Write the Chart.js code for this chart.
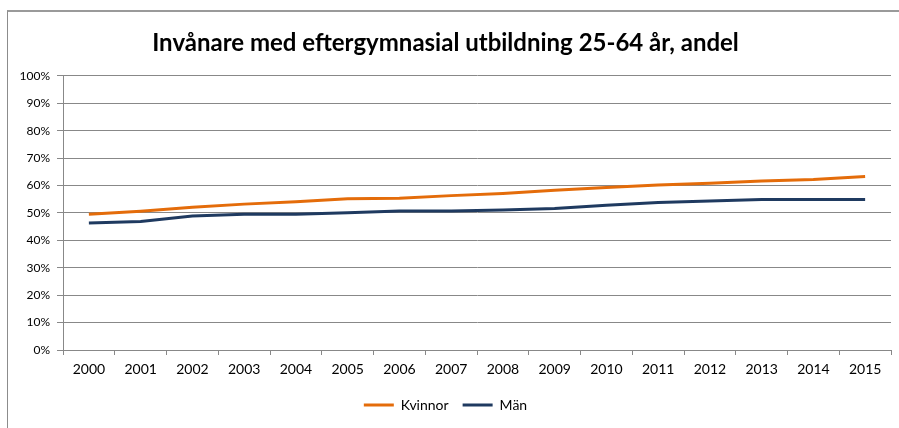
<!DOCTYPE html>
<html>
<head>
<meta charset="utf-8">
<script src="https://cdn.jsdelivr.net/npm/chart.js@4"></script>
<style>
  html, body { margin: 0; padding: 0; background: #fff; overflow: hidden; }
  #frame {
    position: absolute; left: 7px; top: 10px; width: 1000px; height: 1000px;
    border-left: 1px solid #8c8c8c; border-top: 2px solid #9a9a9a;
  }
  #wrap { position: absolute; left: 0; top: 0; width: 899px; height: 428px; }
</style>
</head>
<body>
<div id="frame"></div>
<div id="wrap"><canvas id="chart" width="899" height="428"></canvas></div>
<script>
// DATA
const years = ['2000', '2001', '2002', '2003', '2004', '2005', '2006', '2007',
               '2008', '2009', '2010', '2011', '2012', '2013', '2014', '2015'];
const kvinnor = [49.5, 50.6, 52.1, 53.2, 54.1, 55.2, 55.3, 56.3,
                 57.1, 58.3, 59.3, 60.2, 60.8, 61.6, 62.2, 63.3];
const man = [46.3, 46.9, 48.9, 49.5, 49.5, 50.1, 50.7, 50.7,
             51.1, 51.6, 52.8, 53.8, 54.3, 54.9, 54.9, 54.9];
const yTicks = [0, 10, 20, 30, 40, 50, 60, 70, 80, 90, 100];

const FONT = 'Lato, "Open Sans", sans-serif';
const GRID = '#888888';

new Chart(document.getElementById('chart').getContext('2d'), {
    type: 'line',
    data: {
        labels: years,
        datasets: [{
            label: 'Kvinnor',
            data: kvinnor,
            borderColor: '#E46C0A',
            backgroundColor: '#E46C0A',
            borderWidth: 3,
            pointRadius: 0,
            tension: 0
        }, {
            label: 'Män',
            data: man,
            borderColor: '#1F3A60',
            backgroundColor: '#1F3A60',
            borderWidth: 3,
            pointRadius: 0,
            tension: 0
        }]
    },
    options: {
        responsive: false,
        animation: false,
        layout: { padding: { left: 0, right: 8, top: 0, bottom: 6 } },
        plugins: {
            title: {
                display: true,
                text: 'Invånare med eftergymnasial utbildning 25-64 år, andel',
                color: '#000',
                font: { family: FONT, size: 24, weight: 'bold' },
                padding: { top: 28.5, bottom: 18.5 }
            },
            legend: {
                position: 'bottom',
                labels: {
                    usePointStyle: true,
                    pointStyle: 'line',
                    pointStyleWidth: 30,
                    color: '#000',
                    font: { family: FONT, size: 14 },
                    padding: 14
                }
            },
            tooltip: { enabled: false }
        },
        scales: {
            x: {
                offset: true,
                afterFit: s => { s.height = 34; },
                grid: {
                    offset: true,
                    drawOnChartArea: false,
                    drawTicks: true,
                    tickLength: 5,
                    color: GRID
                },
                border: { color: GRID, width: 1 },
                ticks: {
                    color: '#000',
                    font: { family: FONT, size: 14 },
                    padding: 6,
                    maxRotation: 0,
                    autoSkip: false
                }
            },
            y: {
                min: 0,
                max: 100,
                afterFit: s => { s.width = 63; },
                afterBuildTicks: s => { s.ticks = yTicks.map(v => ({ value: v })); },
                grid: {
                    color: GRID,
                    drawTicks: true,
                    tickLength: 6
                },
                border: { color: GRID, width: 1 },
                ticks: {
                    color: '#000',
                    font: { family: FONT, size: 12 },
                    padding: 7,
                    callback: v => v + '%'
                }
            }
        }
    }
});
</script>
</body>
</html>
